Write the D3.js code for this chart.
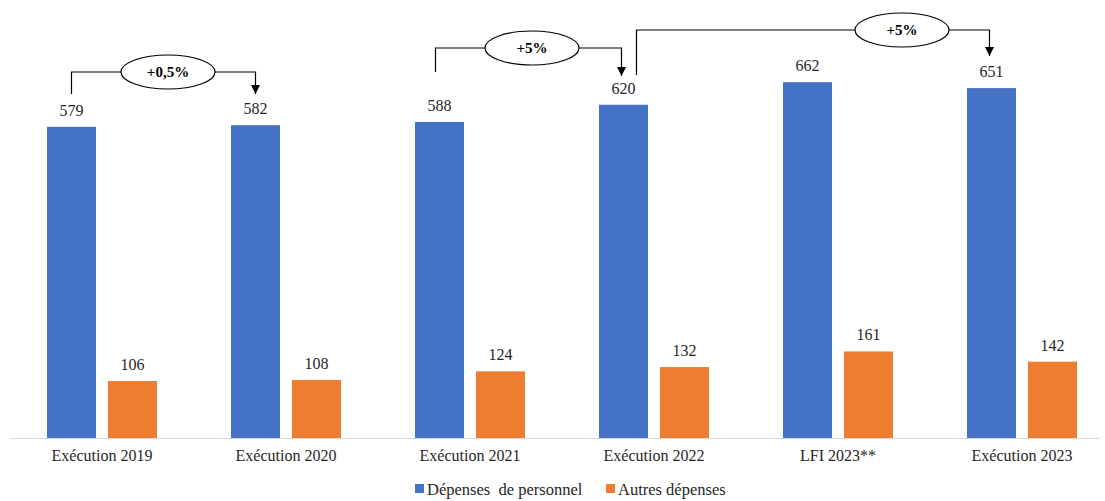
<!DOCTYPE html>
<html><head><meta charset="utf-8">
<script src="https://cdn.jsdelivr.net/npm/d3@7"></script>
<style>body{margin:0;background:#fff}svg{display:block}</style>
</head><body>
<svg id="c" width="1105" height="501"></svg>
<script>
const categories = ["Exécution 2019","Exécution 2020","Exécution 2021","Exécution 2022","LFI 2023**","Exécution 2023"];
const personnel = [579,582,588,620,662,651];
const autres = [106,108,124,132,161,142];
const seriesNames = ["Dépenses  de personnel","Autres dépenses"];
const colors = ["#4472C4","#ED7D31"];
const annotations = [
  {from:0,to:1,label:"+0,5%"},
  {from:2,to:3,label:"+5%"},
  {from:3,to:5,label:"+5%"}
];
const annoLayout = [
  {startY:94, lineY:72, endY:94, dx1:0, dx2:0, ecx:168},
  {startY:72, lineY:48, endY:76, dx1:-4, dx2:-2, ecx:532},
  {startY:75, lineY:30, endY:56, dx1:13, dx2:-2, ecx:902}
];

const svg = d3.select("#c");
const font = "'Liberation Serif','DejaVu Serif',serif";
const x = d3.scaleBand().domain(categories).range([10,1114]).padding(0);
const inner = d3.scaleBand().domain([0,1]).range([37,147]).paddingInner(0.197);
const y = d3.scaleLinear().domain([0,800]).range([438,8]);
const data = [personnel, autres];

svg.append("line").attr("x1",10).attr("x2",1100).attr("y1",y(0)+0.5).attr("y2",y(0)+0.5)
  .attr("stroke","#d9d9d9").attr("stroke-width",1);

data.forEach((vals,s)=>{
  const g = svg.append("g");
  g.selectAll("rect").data(vals).join("rect")
    .attr("x",(d,i)=>x(categories[i])+inner(s))
    .attr("width",inner.bandwidth())
    .attr("y",d=>y(d)).attr("height",d=>y(0)-y(d))
    .attr("fill",colors[s]);
  g.selectAll("text").data(vals).join("text")
    .attr("x",(d,i)=>x(categories[i])+inner(s)+inner.bandwidth()/2)
    .attr("y",d=>y(d)-11)
    .attr("text-anchor","middle").attr("font-family",font).attr("font-size",16).attr("fill","#262626")
    .text(d=>d);
});

const xAxis = d3.axisBottom(x).tickSize(0).tickPadding(0);
const ax = svg.append("g").attr("transform",`translate(0,${y(0)})`).call(xAxis);
ax.select(".domain").remove();
ax.selectAll("text").attr("font-family",font).attr("font-size",16).attr("fill","#262626").attr("dy","1.45em");

// legend
const leg = svg.append("g");
const legItems = [{x:415},{x:606}];
seriesNames.forEach((n,i)=>{
  leg.append("rect").attr("x",legItems[i].x).attr("y",484).attr("width",9).attr("height",9).attr("fill",colors[i]);
  leg.append("text").attr("x",legItems[i].x+12).attr("y",495).attr("font-family",font).attr("font-size",16.5)
    .attr("fill","#262626").attr("xml:space","preserve").style("white-space","pre").text(n);
});

// annotations
const defs = svg.append("defs");
defs.append("marker").attr("id","arr").attr("viewBox","0 0 10 10").attr("refX",10).attr("refY",5)
  .attr("markerWidth",9).attr("markerHeight",9).attr("markerUnits","userSpaceOnUse").attr("orient","auto")
  .append("path").attr("d","M0,0L10,5L0,10z").attr("fill","#000");
const cx = i => x(categories[i]) + inner(0) + inner.bandwidth()/2;
annotations.forEach((a,k)=>{
  const L = annoLayout[k];
  const x1 = cx(a.from)+L.dx1, x2 = cx(a.to)+L.dx2;
  const mid = L.ecx;
  const rx=47, ry=17;
  svg.append("path").attr("d",`M${x1},${L.startY}V${L.lineY}H${mid-rx}`).attr("fill","none").attr("stroke","#000").attr("stroke-width",1.2);
  svg.append("path").attr("d",`M${mid+rx},${L.lineY}H${x2}V${L.endY}`).attr("fill","none").attr("stroke","#000").attr("stroke-width",1.2).attr("marker-end","url(#arr)");
  svg.append("ellipse").attr("cx",mid).attr("cy",L.lineY).attr("rx",rx).attr("ry",ry).attr("fill","#fff").attr("stroke","#000").attr("stroke-width",1.2);
  svg.append("text").attr("x",mid).attr("y",L.lineY+5).attr("text-anchor","middle").attr("font-family",font)
    .attr("font-size",15).attr("font-weight","bold").text(a.label);
});
</script>
</body></html>
